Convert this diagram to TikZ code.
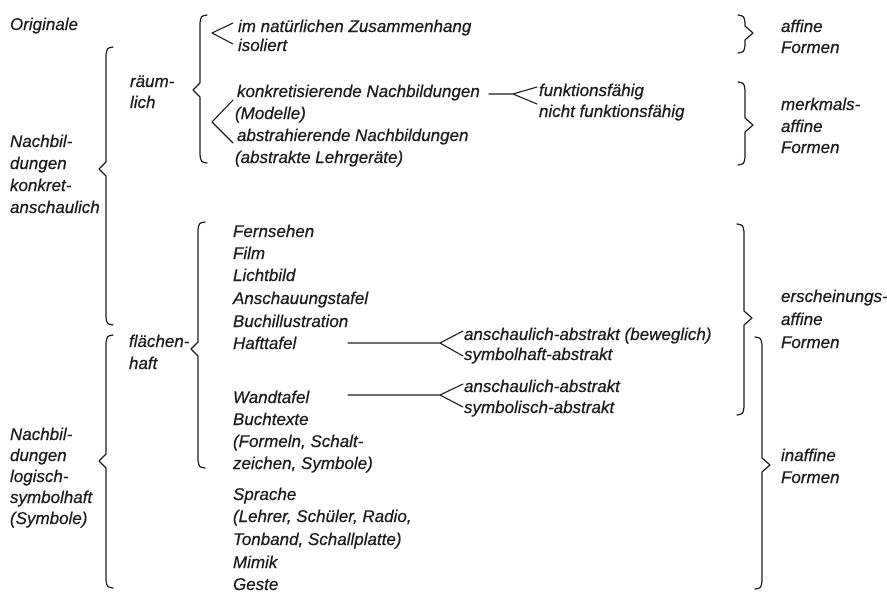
\documentclass[tikz,border=0pt]{standalone}
\usepackage{fontspec}
\setmainfont[FakeBold=0.5]{Liberation Sans}
\definecolor{ink}{HTML}{1E1E1E}
\newcommand\lbrc[4]{\draw[br] ({#1+7},#2) .. controls ({#1+1},{#2+1}) .. (#1,{#2+8}) -- (#1,{#3-7}) -- ({#1-7},#3) -- (#1,{#3+7}) -- (#1,{#4-8}) .. controls ({#1+1},{#4-1}) .. ({#1+7},#4);}
\newcommand\rbrc[4]{\draw[br] ({#1-7},#2) .. controls ({#1-1},{#2+1}) .. (#1,{#2+8}) -- (#1,{#3-7}) -- ({#1+8},#3) -- (#1,{#3+7}) -- (#1,{#4-8}) .. controls ({#1-1},{#4-1}) .. ({#1-7},#4);}
\begin{document}
\begin{tikzpicture}[x=1pt,y=-1pt,
  lbl/.style={anchor=base west, inner sep=0pt, outer sep=0pt, font=\fontsize{17}{21}\selectfont\itshape, text=ink},
  br/.style={draw=ink, line width=1.2pt, line join=round, line cap=round},
  ln/.style={draw=ink, line width=1.1pt, line cap=round, line join=round}]
\useasboundingbox[fill=white] (0,0) rectangle (887,595);

% left column
\node[lbl] (orig) at (10,30) {Originale};
\node[lbl] (na1) at (10,147) {Nachbil-};
\node[lbl] (na2) at (10,169) {dungen};
\node[lbl] (na3) at (10,191) {konkret-};
\node[lbl] (na4) at (10,213) {anschaulich};
\node[lbl] (nb1) at (10,440) {Nachbil-};
\node[lbl] (nb2) at (10,461) {dungen};
\node[lbl] (nb3) at (10,482) {logisch-};
\node[lbl] (nb4) at (10,503) {symbolhaft};
\node[lbl] (nb5) at (10,524) {(Symbole)};

\lbrc{106}{47}{169}{325}
\lbrc{106}{335}{461}{588}

\node[lbl] (rm1) at (130,87) {räum-};
\node[lbl] (rm2) at (130,108) {lich};
\node[lbl] (fl1) at (129,347) {flächen-};
\node[lbl] (fl2) at (129,369) {haft};

\lbrc{200}{15}{90}{163}
\lbrc{198}{222}{349}{468}

% raeumlich
\node[lbl] (im) at (238,32) {im natürlichen Zusammenhang};
\node[lbl] (iso) at (238,51) {isoliert};
\coordinate (a1) at (212,33);
\coordinate (a1u) at (233,23);
\coordinate (a1d) at (233,44);
\draw[ln] (a1u) -- (a1) -- (a1d);

\node[lbl] (kon) at (237,97) {konkretisierende Nachbildungen};
\node[lbl] (mod) at (235,119) {(Modelle)};
\node[lbl] (abs) at (237,141) {abstrahierende Nachbildungen};
\node[lbl] (lg) at (235,163) {(abstrakte Lehrgeräte)};
\coordinate (a2) at (212,122);
\coordinate (a2u) at (233,100);
\coordinate (a2d) at (233,143);
\draw[ln] (a2u) -- (a2) -- (a2d);

\node[lbl] (ff) at (539,96) {funktionsfähig};
\node[lbl] (nf) at (539,117) {nicht funktionsfähig};
\coordinate (f0) at (489,94);
\coordinate (f1) at (513,94);
\coordinate (f1u) at (537,87);
\coordinate (f1d) at (537,104);
\draw[ln] (f0) -- (f1) -- (f1u) (f1) -- (f1d);

% flaechenhaft
\node[lbl] (l1) at (233,237) {Fernsehen};
\node[lbl] (l2) at (233,259) {Film};
\node[lbl] (l3) at (233,281) {Lichtbild};
\node[lbl] (l4) at (233,304) {Anschauungstafel};
\node[lbl] (l5) at (233,327) {Buchillustration};
\node[lbl] (l6) at (233,349) {Hafttafel};
\node[lbl] (l7) at (233,403) {Wandtafel};
\node[lbl] (l8) at (233,425) {Buchtexte};
\node[lbl] (l9) at (233,447) {(Formeln, Schalt-};
\node[lbl] (l10) at (233,469) {zeichen, Symbole)};
\node[lbl] (l11) at (233,500) {Sprache};
\node[lbl] (l12) at (233,522) {(Lehrer, Schüler, Radio,};
\node[lbl] (l13) at (233,545) {Tonband, Schallplatte)};
\node[lbl] (l14) at (233,568) {Mimik};
\node[lbl] (l15) at (233,590) {Geste};

\node[lbl] (h1) at (464,340) {anschaulich-abstrakt (beweglich)};
\node[lbl] (h2) at (464,360) {symbolhaft-abstrakt};
\coordinate (h0) at (348,343);
\coordinate (ha) at (440,343);
\coordinate (hau) at (463,331);
\coordinate (had) at (463,356);
\draw[ln] (h0) -- (ha) -- (hau) (ha) -- (had);

\node[lbl] (w1) at (464,392) {anschaulich-abstrakt};
\node[lbl] (w2) at (464,413) {symbolisch-abstrakt};
\coordinate (w0) at (348,395);
\coordinate (wa) at (440,395);
\coordinate (wau) at (463,384);
\coordinate (wad) at (463,407);
\draw[ln] (w0) -- (wa) -- (wau) (wa) -- (wad);

% right column
\rbrc{745}{15}{33}{53}
\node[lbl] (r1a) at (781,32) {affine};
\node[lbl] (r1b) at (781,53) {Formen};

\rbrc{745}{82}{125}{165}
\node[lbl] (r2a) at (781,110) {merkmals-};
\node[lbl] (r2b) at (781,132) {affine};
\node[lbl] (r2c) at (781,153) {Formen};

\rbrc{744}{224}{318}{415}
\node[lbl] (r3a) at (781,302) {erscheinungs-};
\node[lbl] (r3b) at (781,325) {affine};
\node[lbl] (r3c) at (781,348) {Formen};

\rbrc{762}{337}{465}{589}
\node[lbl] (r4a) at (781,461) {inaffine};
\node[lbl] (r4b) at (781,483) {Formen};
\end{tikzpicture}
\end{document}
